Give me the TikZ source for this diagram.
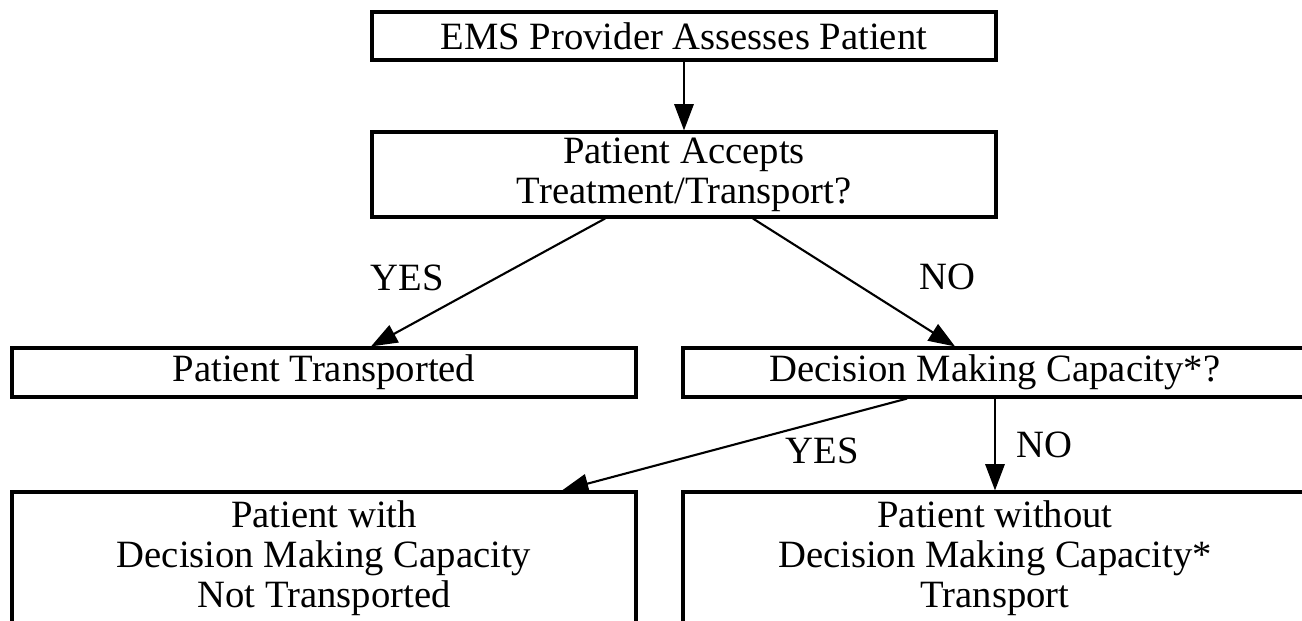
\documentclass[tikz,border=0pt]{standalone}
\usepackage{fontspec}
\setmainfont{Liberation Serif}
\usetikzlibrary{arrows.meta, calc}

\begin{document}
\begin{tikzpicture}[x=0.02cm, y=-0.02cm,
box/.style={draw, line width=1.8pt, minimum width=12.48cm, inner sep=0pt,
  align=center, font=\fontsize{22}{22.8}\selectfont},
arr/.style={-{Triangle[length=15pt,width=11pt]}, line width=1.2pt},
lbl/.style={inner sep=0pt, font=\fontsize{22}{22.8}\selectfont}]
\useasboundingbox (0,0) rectangle (1302,620);
\clip (0,0) rectangle (1302,620);
\node[box, minimum height=0.96cm] (assess) at (684,36) {EMS Provider Assesses Patient};
\node[box, minimum height=1.70cm] (accept) at (684,174.5) {Patient Accepts\\Treatment/Transport?};
\node[box, minimum height=0.98cm] (trans) at (324,372.5) {Patient Transported};
\node[box, minimum height=0.98cm] (dmc) at (995,372.5) {Decision Making Capacity*?};
\node[box, minimum height=2.64cm] (withdmc) at (324,558) {Patient with\\Decision Making Capacity\\Not Transported};
\node[box, minimum height=2.64cm] (nodmc) at (995,558) {Patient without\\Decision Making Capacity*\\Transport};
\draw[arr] (assess.south) -- (accept.north);
\draw[arr] ($(accept.south)+(-79,0)$) -- ($(trans.north)+(47,0)$);
\draw[arr] ($(accept.south)+(69,0)$) -- ($(dmc.north)+(-40,0)$);
\draw[arr] ($(dmc.south)+(-88,0)$) -- ($(withdmc.north)+(238,0)$);
\draw[arr] (dmc.south) -- (nodmc.north);
\node[lbl] (yes1) at (407,278) {YES};
\node[lbl] (no1) at (947,277) {NO};
\node[lbl] (yes2) at (822,451) {YES};
\node[lbl] (no2) at (1044,445) {NO};
\end{tikzpicture}
\end{document}
